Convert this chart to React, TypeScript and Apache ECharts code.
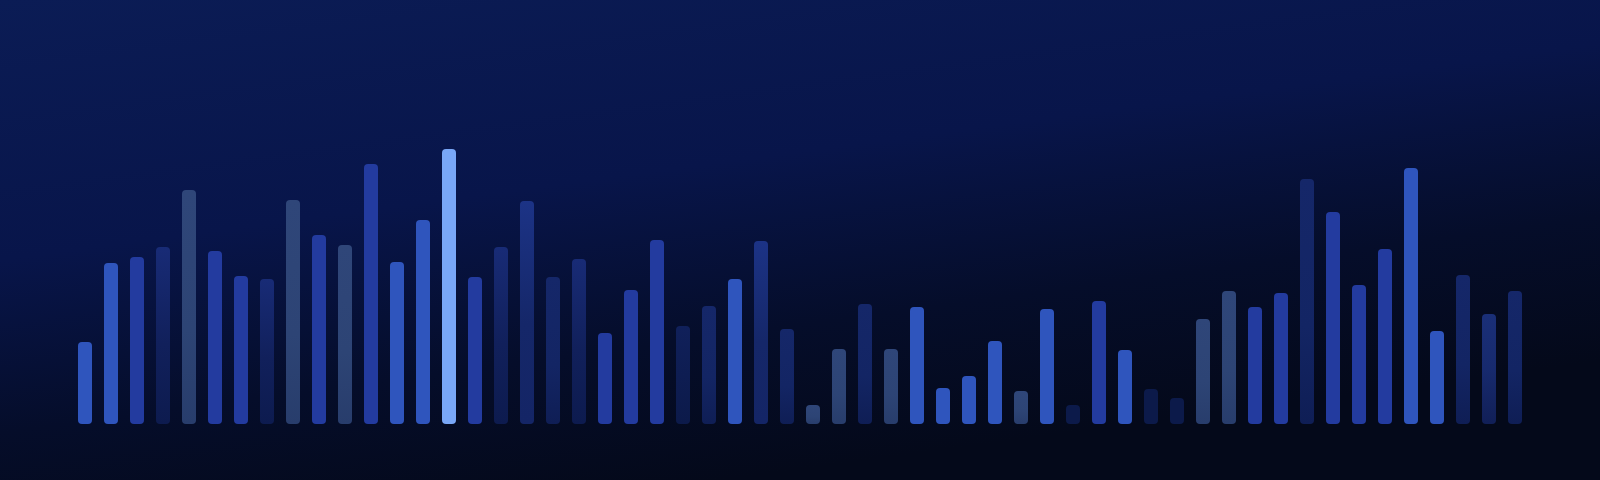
import React, { useEffect, useRef } from "react";
import * as echarts from "echarts";

const categories: string[] = [
  "01","02","03","04","05","06","07","08","09","10",
  "11","12","13","14","15","16","17","18","19","20",
  "21","22","23","24","25","26","27","28","29","30",
  "31","32","33","34","35","36","37","38","39","40",
  "41","42","43","44","45","46","47","48","49","50",
  "51","52","53","54","55","56",
];

const values: number[] = [
  82, 161, 167, 177, 234, 173, 148, 145, 224, 189,
  179, 260, 162, 204, 275, 147, 177, 223, 147, 165,
  91, 134, 184, 98, 118, 145, 183, 95, 19, 75,
  120, 75, 117, 36, 48, 83, 33, 115, 19, 123,
  74, 35, 26, 105, 133, 117, 131, 245, 212, 139,
  175, 256, 93, 149, 110, 133,
];

// tone group of each bar
const tones: string[] = [
  "A","A","B","G","D","B","B","G","D","B",
  "D","B","A","A","E","B","G","N","C","G",
  "B","B","B","K","C","A","N","C","D","D",
  "C","D","A","A","A","A","D","A","F","B",
  "A","F","F","D","D","B","B","C","B","B",
  "B","A","A","C","L","C",
];

const yMax = 424;

function toneColor(t: string): any {
  const V = (stops: [number, string][]) =>
    new echarts.graphic.LinearGradient(0, 0, 0, 1, stops.map(([offset, color]) => ({ offset, color })));
  switch (t) {
    case "A": return "#2f55bd";
    case "B": return "#233b9f";
    case "C": return V([[0, "#152769"], [0.6, "#132564"], [1, "#0f1e55"]]);
    case "L": return V([[0, "#1a2f78"], [0.5, "#172a6e"], [1, "#111f57"]]);
    case "D": return V([[0, "#2f4679"], [0.6, "#2d4475"], [1, "#283d6c"]]);
    case "E": return "#79a7f7";
    case "F": return "#0c1a4a";
    case "K": return V([[0, "#10205a"], [1, "#0c1a4a"]]);
    case "G": return V([[0, "#182b76"], [0.55, "#11205b"], [1, "#0d1b4f"]]);
    case "N": return V([[0, "#1c3386"], [0.55, "#152769"], [1, "#142566"]]);
    default: return "#233b9f";
  }
}

export default function App() {
  const ref = useRef<HTMLDivElement>(null);
  useEffect(() => {
    if (!ref.current) return;
    const chart = echarts.init(ref.current, undefined, { renderer: "svg" });
    chart.setOption({
      animation: false,
      backgroundColor: new echarts.graphic.LinearGradient(0, 0, 0.45, 1, [
        { offset: 0, color: "#0b1c55" },
        { offset: 0.45, color: "#08154a" },
        { offset: 0.75, color: "#050d2a" },
        { offset: 1, color: "#04091a" },
      ]),
      grid: { left: 72, right: 72, top: 0, bottom: 56 },
      xAxis: {
        type: "category",
        data: categories,
        show: false,
        boundaryGap: true,
      },
      yAxis: {
        type: "value",
        min: 0,
        max: yMax,
        show: false,
      },
      series: [
        {
          type: "bar",
          barWidth: 14,
          data: values.map((v, i) => ({
            value: v,
            itemStyle: { color: toneColor(tones[i]), borderRadius: 4 },
          })),
        },
      ],
    });
    return () => chart.dispose();
  }, []);
  return (
    <div
      ref={ref}
      style={{ position: "fixed", left: 0, top: 0, width: 1600, height: 480 }}
    />
  );
}
